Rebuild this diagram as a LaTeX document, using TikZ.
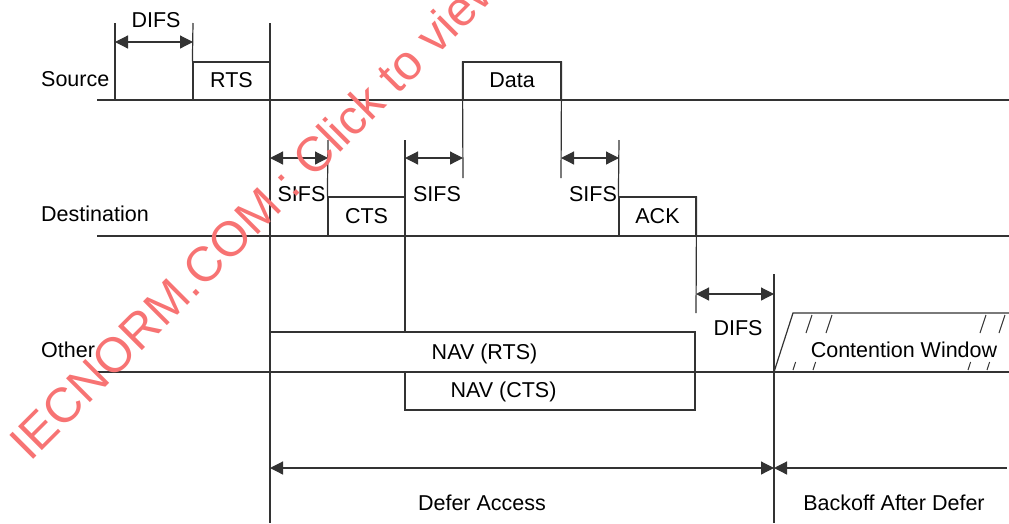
\documentclass[tikz,border=0pt]{standalone}
\usepackage{fontspec}
\setmainfont{Liberation Sans}
\usetikzlibrary{arrows.meta,positioning,calc}
\definecolor{linegray}{rgb}{0.2,0.2,0.2}
\definecolor{stampred}{rgb}{0.97,0.45,0.45}

\begin{document}
\begin{tikzpicture}[
    x=1pt, y=-1pt,
    every node/.style={font=\fontsize{21.5}{26}\selectfont},
    ln/.style={draw=linegray, line width=1.2pt},
    frame/.style={ln, minimum height=38pt, inner sep=0pt, text height=13pt, text depth=0pt},
    lbl/.style={anchor=base, inner sep=0pt},
    span/.style={ln, {Triangle[length=13pt,width=13pt]}-{Triangle[length=13pt,width=13pt]}},
    backspan/.style={ln, {Triangle[length=13pt,width=13pt]}-},
    hatch/.style={ln, line width=1pt}
  ]
  \useasboundingbox (0,0) rectangle (1009,523);

  % time lines of the three stations
  \coordinate (srcA) at (97,100);  \coordinate (srcB) at (1009,100);
  \coordinate (dstA) at (97,236);  \coordinate (dstB) at (1009,236);
  \coordinate (othA) at (97,372);  \coordinate (othB) at (1009,372);
  \draw[ln] (srcA) -- (srcB);
  \draw[ln] (dstA) -- (dstB);
  \draw[ln] (othA) -- (othB);
  \node[lbl, anchor=base west] (srcname) at (41,86) {Source};
  \node[lbl, anchor=base west] (dstname) at (41,221) {Destination};
  \node[lbl, anchor=base west] (othname) at (41,357) {Other};

  % frames
  \node[frame, minimum width=77pt] (rts) at (231.5,81) {RTS};
  \node[frame, minimum width=98pt] (data) at (512,81) {Data};
  \node[frame, minimum width=77pt, minimum height=39pt] (cts) at (366.5,216.5) {CTS};
  \node[frame, minimum width=77pt, minimum height=39pt] (ack) at (657.5,216.5) {ACK};
  \node[frame, minimum width=425pt, minimum height=40pt] (navrts) at (482.5,352) {};
  \node[frame, minimum width=290pt] (navcts) at (550,391) {};
  \node[lbl] (navrtstext) at (484.5,359) {NAV (RTS)};
  \node[lbl] (navctstext) at (503.5,397) {NAV (CTS)};

  % boundary lines
  \coordinate (t115) at (115,23);  \coordinate (b115) at (115,100);
  \coordinate (t193) at (193,23);
  \coordinate (t270) at (270,23);  \coordinate (b270) at (270,523);
  \coordinate (t328) at (328,140);
  \coordinate (t405) at (405,140);
  \coordinate (b463) at (463,178);
  \coordinate (b561) at (561,178);
  \coordinate (t619) at (619,140);
  \coordinate (b696) at (696,313);
  \coordinate (t774) at (774,274); \coordinate (b774) at (774,523);
  \draw[ln] (t115) -- (b115);
  \draw[ln] (t193) -- (rts.north west);
  \draw[ln] (t270) -- (b270);
  \draw[ln] (t328) -- (cts.north west);
  \draw[ln] (t405) -- (navrts.north -| t405);
  \draw[ln] (data.north west) -- (b463);
  \draw[ln] (data.north east) -- (b561);
  \draw[ln] (t619) -- (ack.north west);
  \draw[ln] (ack.north east) -- (b696);
  \draw[ln] (t774) -- (b774);

  % interframe spaces
  \coordinate (difsA) at (115,42);  \coordinate (difsB) at (193,42);
  \coordinate (sifsA) at (270,158); \coordinate (sifsB) at (328,158);
  \coordinate (sifsC) at (405,158); \coordinate (sifsD) at (463,158);
  \coordinate (sifsE) at (561,158); \coordinate (sifsF) at (619,158);
  \coordinate (difsC) at (696,294); \coordinate (difsD) at (774,294);
  \draw[span] (difsA) -- (difsB);
  \draw[span] (sifsA) -- (sifsB);
  \draw[span] (sifsC) -- (sifsD);
  \draw[span] (sifsE) -- (sifsF);
  \draw[span] (difsC) -- (difsD);
  \node[lbl] (difs1) at (156,27) {DIFS};
  \node[lbl] (sifs1) at (301.5,201) {SIFS};
  \node[lbl] (sifs2) at (437,201) {SIFS};
  \node[lbl] (sifs3) at (593,201) {SIFS};
  \node[lbl] (difs2) at (738,335) {DIFS};

  % contention window
  \coordinate (cwA) at (774,372); \coordinate (cwB) at (793,313); \coordinate (cwC) at (1009,313);
  \draw[ln] (cwA) -- (cwB) -- (cwC);
  \foreach \x in {806,826,980,999} \draw[hatch] (\x,333) -- ++(6,-18);
  \foreach \x in {793,813,968,987} \draw[hatch] (\x,370) -- ++(2.6,-8);
  \node[lbl] (cwtext) at (904,357) {Contention Window};

  % defer and backoff
  \coordinate (defA) at (270,468); \coordinate (defB) at (774,468); \coordinate (bkB) at (1007,468);
  \draw[span] (defA) -- (defB);
  \draw[backspan] (defB) -- (bkB);
  \node[lbl] (defertext) at (482,510) {Defer Access};
  \node[lbl] (backofftext) at (894,510) {Backoff After Defer};

  % stamp
  \node[anchor=base west, inner sep=0pt, rotate=45, text=stampred,
        font=\fontsize{49}{50}\selectfont] (stamp) at (30,463) {IECNORM.COM : Click to view};
\end{tikzpicture}
\end{document}
